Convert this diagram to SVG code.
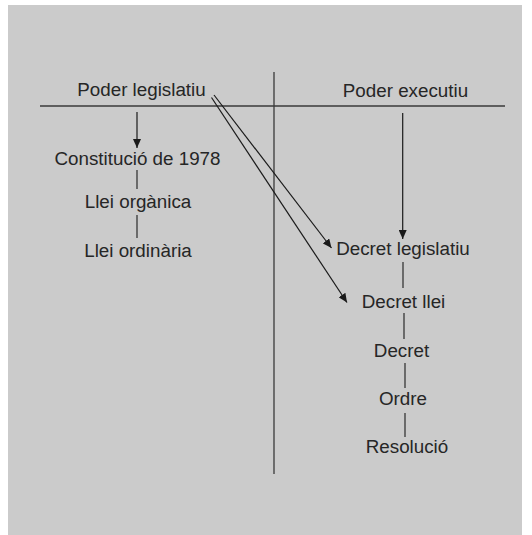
<svg xmlns="http://www.w3.org/2000/svg" width="532" height="535" viewBox="0 0 532 535">
  <defs>
    <marker id="arrow" markerUnits="userSpaceOnUse" markerWidth="10" markerHeight="8" refX="9" refY="4" orient="auto">
      <path d="M0,0 L9,4 L0,8 Z" fill="#1a1a1a"/>
    </marker>
    <style>
      .bg { fill: #cbcbcb; }
      .rule { stroke: #3a3a3a; stroke-width: 1.3; fill: none; }
      .link { stroke: #2a2a2a; stroke-width: 1.2; fill: none; }
      .arrow { stroke: #1a1a1a; stroke-width: 1.2; fill: none; marker-end: url(#arrow); }
      .label { font-family: "Liberation Sans", Arial, sans-serif; font-size: 18.8px; fill: #262626; text-anchor: middle; }
    </style>
  </defs>

  <rect class="bg" x="8" y="5" width="514" height="530"/>

  <!-- frame rules -->
  <g id="rules">
    <line class="rule" x1="40" y1="106" x2="505" y2="106"/>
    <line class="rule" x1="274" y1="72" x2="274" y2="474"/>
  </g>

  <!-- headings -->
  <g id="poder-legislatiu"><text class="label" x="141.5" y="96">Poder legislatiu</text></g>
  <g id="poder-executiu"><text class="label" x="405.5" y="97">Poder executiu</text></g>

  <!-- legislative column -->
  <g id="constitucio"><text class="label" x="137.5" y="165">Constitució de 1978</text></g>
  <g id="llei-organica"><text class="label" x="138" y="208">Llei orgànica</text></g>
  <g id="llei-ordinaria"><text class="label" x="138" y="257">Llei ordinària</text></g>

  <!-- executive column -->
  <g id="decret-legislatiu"><text class="label" x="403" y="255">Decret legislatiu</text></g>
  <g id="decret-llei"><text class="label" x="403.5" y="308">Decret llei</text></g>
  <g id="decret"><text class="label" x="401.5" y="357">Decret</text></g>
  <g id="ordre"><text class="label" x="403" y="405">Ordre</text></g>
  <g id="resolucio"><text class="label" x="407" y="453">Resolució</text></g>

  <!-- connectors -->
  <g id="connectors">
    <line class="arrow" x1="137" y1="112" x2="137" y2="148"/>
    <line class="link" x1="137" y1="170" x2="137" y2="189"/>
    <line class="link" x1="137" y1="215" x2="137" y2="238"/>

    <line class="arrow" x1="402.7" y1="113" x2="402.7" y2="239"/>
    <line class="link" x1="403" y1="262" x2="403" y2="288"/>
    <line class="link" x1="404" y1="313" x2="404" y2="339"/>
    <line class="link" x1="405" y1="363" x2="405" y2="388"/>
    <line class="link" x1="405" y1="413" x2="405" y2="437"/>

    <line class="arrow" x1="214" y1="95" x2="331.5" y2="248"/>
    <line class="arrow" x1="211.5" y1="97.5" x2="347" y2="302.5"/>
  </g>
</svg>
